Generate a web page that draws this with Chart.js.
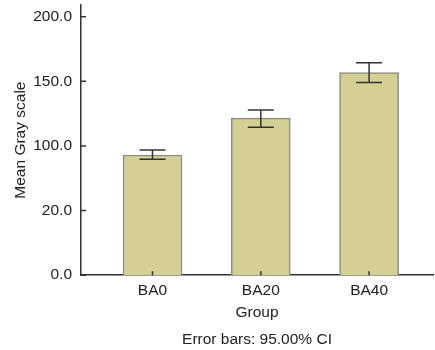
<!DOCTYPE html>
<html>
<head>
<meta charset="utf-8">
<script src="https://cdn.jsdelivr.net/npm/chart.js@4"></script>
<style>
  html, body { margin: 0; padding: 0; background: #fff; }
  #wrap { width: 435px; height: 350px; position: relative; }
</style>
</head>
<body>
<div id="wrap"><canvas id="grayChart"></canvas></div>
<script>
// data
const categories = ['BA0', 'BA20', 'BA40'];
const means = [93.0, 121.5, 156.8];
const ciLow = [89.6, 114.5, 149.0];
const ciHigh = [96.9, 127.8, 164.4];

// the y axis is labelled oddly in the original, keep it as printed
const yTickValues = [0, 50, 100, 150, 200];
const yTickLabels = ['0.0', '20.0', '100.0', '150.0', '200.0'];

Chart.defaults.font.family = "'Liberation Sans', Arial, sans-serif";
Chart.defaults.font.size = 15.5;
Chart.defaults.color = '#222';

// error bars + inward tick marks
const innerMarks = {
    id: 'innerMarks',
    afterDatasetsDraw(chart) {
        const { ctx, scales: { x, y } } = chart;
        ctx.save();
        ctx.strokeStyle = '#333';
        ctx.lineWidth = 1.5;
        ctx.beginPath();
        categories.forEach((c, i) => {
            const px = x.getPixelForValue(i + 1);
            const top = y.getPixelForValue(ciHigh[i]);
            const bot = y.getPixelForValue(ciLow[i]);
            ctx.moveTo(px, top); ctx.lineTo(px, bot);
            ctx.moveTo(px - 13, top); ctx.lineTo(px + 13, top);
            ctx.moveTo(px - 13, bot); ctx.lineTo(px + 13, bot);
            ctx.moveTo(px, y.bottom); ctx.lineTo(px, y.bottom - 4);
        });
        yTickValues.forEach(v => {
            const py = y.getPixelForValue(v);
            ctx.moveTo(x.left, py); ctx.lineTo(x.left + 5, py);
        });
        ctx.stroke();
        ctx.restore();
    }
};

new Chart(document.getElementById('grayChart'), {
    type: 'bar',
    data: {
        datasets: [{
            data: categories.map((c, i) => ({ x: i + 1, y: means[i] })),
            backgroundColor: '#d3cf95',
            borderColor: '#8a8a80',
            borderWidth: 1.5,
            barThickness: 59
        }]
    },
    options: {
        responsive: true,
        maintainAspectRatio: false,
        animation: false,
        layout: { padding: { top: 5, right: 2, left: 0, bottom: 0 } },
        plugins: {
            legend: { display: false },
            tooltip: { enabled: false },
            title: {
                display: true,
                text: 'Error bars: 95.00% CI',
                position: 'bottom',
                fullSize: false,
                font: { weight: 'normal', size: 15.5 },
                color: '#222',
                padding: { top: 8, bottom: 1 }
            }
        },
        scales: {
            x: {
                type: 'linear',
                offset: false,
                min: 0.34,
                max: 3.59,
                afterBuildTicks: (scale) => {
                    scale.ticks = categories.map((c, i) => ({ value: i + 1 }));
                },
                ticks: {
                    padding: 6.5,
                    maxRotation: 0,
                    callback: (v, i) => categories[i]
                },
                grid: { display: false, drawTicks: false },
                border: { display: true, color: '#333', width: 1.5 },
                title: {
                    display: true,
                    text: 'Group',
                    color: '#222',
                    padding: { top: -3, bottom: 0 }
                }
            },
            y: {
                min: 0,
                max: 209,
                afterBuildTicks: (scale) => {
                    scale.ticks = yTickValues.map(v => ({ value: v }));
                },
                afterFit: (scale) => {
                    scale.width = 81;
                    scale.paddingTop = 0;
                    scale.paddingBottom = 0;
                },
                ticks: {
                    padding: 9,
                    callback: (v, i) => yTickLabels[i]
                },
                grid: { display: false, drawTicks: false },
                border: { display: true, color: '#333', width: 1.5 },
                title: {
                    display: true,
                    text: 'Mean Gray scale',
                    color: '#222',
                    padding: { top: 11, bottom: 0 }
                }
            }
        }
    },
    plugins: [innerMarks]
});
</script>
</body>
</html>
